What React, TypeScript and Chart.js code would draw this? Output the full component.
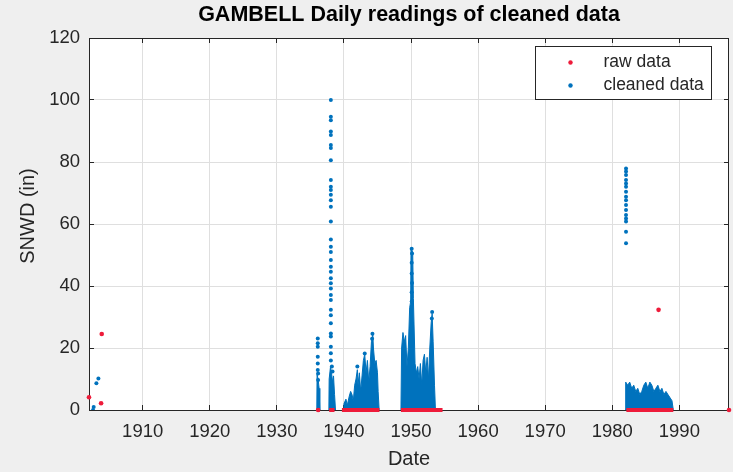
import React, { useEffect, useRef } from 'react';
import { Chart, registerables } from 'chart.js';

Chart.register(...registerables);

// ---------- text ----------
const TITLE = 'GAMBELL Daily readings of cleaned data';
const X_LABEL = 'Date';
const Y_LABEL = 'SNWD (in)';

// ---------- axes ----------
const X_MIN = 1902.0;
const X_MAX = 1997.4;
const Y_MIN = 0;
const Y_MAX = 120;
const xTickValues = [1910, 1920, 1930, 1940, 1950, 1960, 1970, 1980, 1990];
const yTickValues = [0, 20, 40, 60, 80, 100, 120];

// ---------- data: raw data (red) ----------
const rawPoints: [number, number][] = [
  [1902.0, 4.1], [1903.8, 2.2], [1903.9, 24.5], [1936.15, 0],
  [1986.9, 32.3], [1997.4, 0],
];
// runs of raw readings equal to 0 (start date, end date)
const rawZeroRuns: [number, number][] = [
  [1936.05, 1936.4], [1937.8, 1938.6], [1939.7, 1945.3], [1948.5, 1954.7], [1982.1, 1989.1],
];

// ---------- data: cleaned data (blue) ----------
const cleanedEarly: [number, number][] = [
  [1902.6, 0], [1902.7, 1.0], [1903.1, 8.6], [1903.4, 10.2],
];
const cleaned1936: [number, number][] = [
  [1936.1, 23.1], [1936.1, 21.5], [1936.1, 20.4], [1936.1, 17.2], [1936.1, 15.0],
  [1936.1, 12.9], [1936.15, 11.8], [1936.15, 9.7],
];
const cleaned1938: [number, number][] = [
  [1938.05, 100], [1938.05, 94.6], [1938.05, 93.5], [1938.05, 89.8], [1938.05, 88.7],
  [1938.05, 85.5], [1938.05, 84.5], [1938.05, 80.6], [1938.05, 74.2], [1938.05, 72.0],
  [1938.05, 71.0], [1938.05, 69.4], [1938.05, 67.7], [1938.05, 65.6], [1938.05, 60.8],
  [1938.05, 55.0], [1938.05, 52.7], [1938.05, 51.0], [1938.05, 48.4], [1938.05, 46.2],
  [1938.05, 44.6], [1938.05, 42.5], [1938.05, 40.9], [1938.05, 39.2], [1938.05, 37.1],
  [1938.05, 35.5], [1938.05, 32.3], [1938.05, 30.6], [1938.05, 28.0], [1938.05, 24.7],
  [1938.05, 23.7], [1938.05, 20.4], [1938.05, 18.3], [1938.05, 16.0], [1938.2, 14.0],
  [1938.3, 12.4],
];
const cleaned1944: [number, number][] = [
  [1944.25, 24.6], [1944.2, 23.0], [1942.0, 14.0], [1943.1, 18.2],
];
const cleaned1950: [number, number][] = [
  [1950.1, 52.0], [1950.15, 50.5], [1950.1, 47.5], [1950.1, 44.0], [1950.15, 41.0],
  [1950.1, 38.0], [1950.1, 35.0], [1953.15, 31.6], [1953.1, 29.5],
];
const cleaned1982: [number, number][] = [
  [1982.05, 77.9], [1982.05, 76.9], [1982.05, 75.8], [1982.05, 74.2], [1982.05, 73.1],
  [1982.05, 72.0], [1982.05, 70.4], [1982.05, 68.8], [1982.05, 67.7], [1982.05, 66.1],
  [1982.05, 64.5], [1982.05, 62.9], [1982.05, 61.8], [1982.05, 60.8], [1982.05, 57.5],
  [1982.05, 53.8],
];

// upper envelope of the densely packed daily readings (each cluster starts/ends at 0)
const dense1936: [number, number][] = [
  [1935.95, 0], [1936.0, 11.5], [1936.15, 10.0], [1936.3, 7.0], [1936.4, 0],
];
const dense1938: [number, number][] = [
  [1937.75, 0], [1937.8, 10.0], [1938.0, 14.0], [1938.15, 12.0], [1938.3, 9.0],
  [1938.45, 11.0], [1938.6, 5.0], [1938.75, 0],
];
const dense1940s: [number, number][] = [
  [1939.9, 0], [1940.0, 2.0], [1940.3, 3.5], [1940.5, 1.5], [1940.8, 4.5], [1941.0, 6.0],
  [1941.2, 5.0], [1941.4, 3.0], [1941.6, 8.0], [1941.8, 10.0], [1942.0, 13.0], [1942.1, 8.0],
  [1942.3, 12.0], [1942.5, 6.0], [1942.7, 11.0], [1942.9, 16.0], [1943.1, 18.0], [1943.3, 12.0],
  [1943.5, 16.0], [1943.7, 9.0], [1943.9, 14.0], [1944.1, 22.0], [1944.3, 24.5], [1944.4, 20.0],
  [1944.6, 15.0], [1944.8, 16.0], [1945.0, 12.0], [1945.1, 6.0], [1945.25, 0],
];
const dense1950s: [number, number][] = [
  [1948.5, 0], [1948.6, 20.0], [1948.8, 25.0], [1949.0, 22.0], [1949.2, 24.0], [1949.4, 14.0],
  [1949.6, 20.0], [1949.8, 33.0], [1949.95, 35.0], [1950.0, 52.0], [1950.25, 51.0], [1950.35, 36.0],
  [1950.6, 15.0], [1950.8, 12.0], [1951.0, 14.0], [1951.2, 10.0], [1951.4, 15.0], [1951.6, 8.0],
  [1951.8, 16.0], [1952.0, 18.0], [1952.2, 12.0], [1952.4, 17.0], [1952.6, 10.0], [1952.8, 20.0],
  [1953.0, 28.0], [1953.15, 31.0], [1953.3, 22.0], [1953.5, 8.0], [1953.65, 0],
];
const dense1980s: [number, number][] = [
  [1981.9, 0], [1982.0, 9.0], [1982.3, 8.0], [1982.6, 9.0], [1982.9, 7.0], [1983.2, 8.0],
  [1983.5, 6.0], [1983.8, 7.0], [1984.1, 5.0], [1984.4, 6.0], [1984.7, 8.0], [1985.0, 9.0],
  [1985.3, 7.0], [1985.6, 9.0], [1985.9, 8.0], [1986.2, 6.0], [1986.5, 7.0], [1986.8, 8.0],
  [1987.1, 6.0], [1987.4, 7.0], [1987.7, 5.0], [1988.0, 6.0], [1988.3, 5.0], [1988.6, 4.0],
  [1988.9, 3.0], [1989.1, 0],
];

// ---------- styles ----------
const FONT = '"Liberation Sans", Arial, Helvetica, sans-serif';
const RED = '#ee1b3a';
const BLUE = '#0072BD';
const TEXT = '#262626';
const AXIS = '#262626';
const GRID = '#dfdfdf';
const FIG_BG = '#efefef';

type P = { x: number; y: number | null };

export default function App() {
  const ref = useRef<HTMLCanvasElement>(null);

  useEffect(() => {
    document.body.style.margin = '0';
    document.body.style.background = FIG_BG;
    const canvas = ref.current;
    if (!canvas) return;

    const toXY = (arr: [number, number][]): P[] => arr.map(([x, y]) => ({ x, y }));
    const joinWithGaps = (clusters: [number, number][][]): P[] => {
      const out: P[] = [];
      clusters.forEach((c, i) => {
        if (i > 0) out.push({ x: c[0][0], y: null });
        out.push(...toXY(c));
      });
      return out;
    };
    const rawZeroData: P[] = [];
    rawZeroRuns.forEach(([a, b]) => {
      rawZeroData.push({ x: a, y: 0 }, { x: b, y: 0 }, { x: b, y: null });
    });

    const cleanedPoints = [
      ...cleanedEarly, ...cleaned1936, ...cleaned1938, ...cleaned1944, ...cleaned1950, ...cleaned1982,
    ];

    const framePlugin = {
      id: 'frame',
      beforeDraw(chart: any) {
        const { ctx, chartArea: ca } = chart;
        ctx.save();
        ctx.fillStyle = FIG_BG;
        ctx.fillRect(0, 0, chart.width, chart.height);
        ctx.fillStyle = '#ffffff';
        ctx.fillRect(ca.left, ca.top, ca.right - ca.left, ca.bottom - ca.top);
        ctx.restore();
      },
      beforeDatasetsDraw(chart: any) {
        const { ctx, chartArea: ca, scales } = chart;
        ctx.save();
        ctx.strokeStyle = AXIS;
        ctx.lineWidth = 1;
        ctx.beginPath();
        ctx.moveTo(ca.left, Math.floor(ca.top) + 0.5);
        ctx.lineTo(ca.right, Math.floor(ca.top) + 0.5);
        ctx.moveTo(Math.floor(ca.right) - 0.5, ca.top);
        ctx.lineTo(Math.floor(ca.right) - 0.5, ca.bottom);
        const tl = 5;
        xTickValues.forEach((v) => {
          const px = Math.floor(scales.x.getPixelForValue(v)) + 0.5;
          ctx.moveTo(px, ca.bottom);
          ctx.lineTo(px, ca.bottom - tl);
          ctx.moveTo(px, ca.top);
          ctx.lineTo(px, ca.top + tl);
        });
        yTickValues.forEach((v) => {
          const py = Math.floor(scales.y.getPixelForValue(v)) + 0.5;
          ctx.moveTo(ca.left, py);
          ctx.lineTo(ca.left + tl, py);
          ctx.moveTo(ca.right, py);
          ctx.lineTo(ca.right - tl, py);
        });
        ctx.stroke();
        ctx.restore();
      },
      afterDraw(chart: any) {
        const { ctx, chartArea: ca } = chart;
        ctx.save();
        // title, centred over the axes
        ctx.font = `bold 21.5px ${FONT}`;
        ctx.fillStyle = '#000000';
        ctx.textAlign = 'center';
        ctx.textBaseline = 'middle';
        ctx.fillText(TITLE, (ca.left + ca.right) / 2, 15);

        // y-axis label (rotated)
        ctx.save();
        ctx.translate(28.5, (ca.top + ca.bottom) / 2 - 8);
        ctx.rotate(-Math.PI / 2);
        ctx.font = `20px ${FONT}`;
        ctx.fillStyle = TEXT;
        ctx.textAlign = 'center';
        ctx.textBaseline = 'middle';
        ctx.fillText(Y_LABEL, 0, 0);
        ctx.restore();

        // legend box inside the axes, top right
        const entries = chart.data.datasets.filter((d: any) => !String(d.label).startsWith('_'));
        const bw = 176;
        const bh = 53;
        const bx = Math.floor(ca.right - 18 - bw) + 0.5;
        const by = Math.floor(ca.top + 8) + 0.5;
        ctx.fillStyle = '#ffffff';
        ctx.fillRect(bx, by, bw, bh);
        ctx.strokeStyle = AXIS;
        ctx.lineWidth = 1;
        ctx.strokeRect(bx, by, bw, bh);
        ctx.font = `17.5px ${FONT}`;
        ctx.textAlign = 'left';
        ctx.textBaseline = 'middle';
        entries.forEach((d: any, i: number) => {
          const cy = by + 16 + i * 23;
          ctx.fillStyle = d.backgroundColor;
          ctx.beginPath();
          ctx.arc(bx + 35, cy, 2.2, 0, Math.PI * 2);
          ctx.fill();
          ctx.fillStyle = TEXT;
          ctx.fillText(d.label, bx + 68, cy);
        });
        ctx.restore();
      },
    };

    const chart = new Chart(canvas, {
      type: 'scatter',
      data: {
        datasets: [
          {
            label: 'raw data',
            data: toXY(rawPoints),
            backgroundColor: RED,
            borderColor: RED,
            pointRadius: 2.3,
            pointBorderWidth: 0,
            order: 0,
            clip: false,
          } as any,
          {
            label: 'cleaned data',
            data: toXY(cleanedPoints),
            backgroundColor: BLUE,
            borderColor: BLUE,
            pointRadius: 2,
            pointBorderWidth: 0,
            order: 2,
          } as any,
          {
            label: '_raw zeros',
            type: 'line',
            data: rawZeroData,
            borderColor: RED,
            backgroundColor: RED,
            borderWidth: 4,
            pointRadius: 0,
            showLine: true,
            spanGaps: false,
            fill: false,
            tension: 0,
            order: 1,
            clip: false,
          } as any,
          {
            label: '_cleaned dense',
            type: 'line',
            data: joinWithGaps([dense1936, dense1938, dense1940s, dense1950s, dense1980s]),
            borderColor: BLUE,
            backgroundColor: BLUE,
            borderWidth: 1,
            pointRadius: 0,
            showLine: true,
            spanGaps: false,
            fill: 'origin',
            tension: 0,
            order: 3,
          } as any,
        ],
      },
      options: {
        responsive: false,
        animation: false,
        devicePixelRatio: 1,
        events: [],
        font: { family: FONT },
        layout: { padding: { top: 38, left: 0, right: 2, bottom: 0 } },
        plugins: {
          legend: { display: false },
          title: { display: false },
          tooltip: { enabled: false },
        },
        scales: {
          x: {
            type: 'linear',
            min: X_MIN,
            max: X_MAX,
            afterBuildTicks: (s: any) => {
              s.ticks = xTickValues.map((value) => ({ value }));
            },
            afterFit: (s: any) => {
              s.height = 62;
            },
            ticks: {
              font: { family: FONT, size: 18.5 },
              color: TEXT,
              padding: 11,
              maxRotation: 0,
              autoSkip: false,
              callback: (v: any) => String(v),
            },
            grid: { color: GRID, drawTicks: false, lineWidth: 1 },
            border: { display: true, color: AXIS, width: 1 },
            title: {
              display: true,
              text: X_LABEL,
              color: TEXT,
              font: { family: FONT, size: 20 },
              padding: { top: 0, bottom: 1 },
            },
          },
          y: {
            type: 'linear',
            min: Y_MIN,
            max: Y_MAX,
            afterBuildTicks: (s: any) => {
              s.ticks = yTickValues.map((value) => ({ value }));
            },
            afterFit: (s: any) => {
              s.width = 89;
            },
            ticks: {
              font: { family: FONT, size: 18.5 },
              color: TEXT,
              padding: 9,
              autoSkip: false,
              callback: (v: any) => String(v),
            },
            grid: { color: GRID, drawTicks: false, lineWidth: 1 },
            border: { display: true, color: AXIS, width: 1 },
            title: { display: false, text: Y_LABEL },
          },
        },
      } as any,
      plugins: [framePlugin],
    });

    return () => chart.destroy();
  }, []);

  return (
    <div style={{ width: 733, height: 472 }}>
      <canvas ref={ref} width={733} height={472} style={{ display: 'block' }} />
    </div>
  );
}
